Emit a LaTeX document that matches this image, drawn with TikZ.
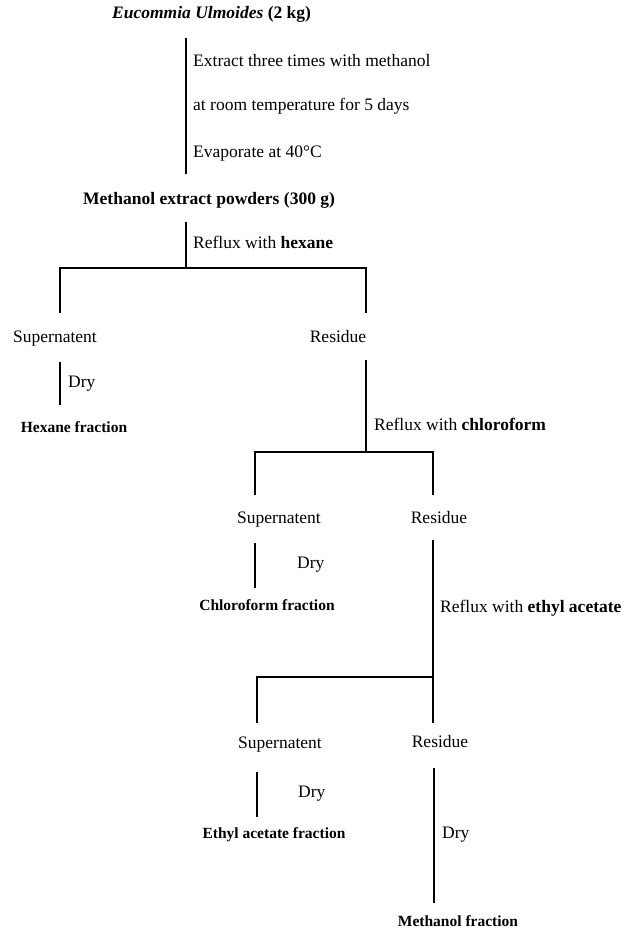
\documentclass[tikz,border=0pt]{standalone}
\usepackage{fontspec}
\setmainfont{Liberation Serif}
\begin{document}
\begin{tikzpicture}[x=1pt,y=-1pt]
\tikzset{
  lbl/.style={inner sep=0pt, font=\fontsize{17.5}{20}\selectfont},
  lblL/.style={lbl, anchor=mid west},
  lblC/.style={lbl, anchor=mid},
  hdr/.style={inner sep=0pt, anchor=mid west, font=\fontsize{17.5}{20}\selectfont\bfseries},
  fracn/.style={inner sep=0pt, anchor=mid, font=\fontsize{15.5}{18}\selectfont\bfseries},
  ln/.style={line width=1.4pt, line cap=butt},
  lnthin/.style={line width=1.1pt, line cap=butt}
}
\useasboundingbox[fill=white] (0,0) rectangle (630,939);

% ---- top ----
\node[hdr] (title) at (112,16) {\textit{Eucommia Ulmoides} (2 kg)};
\coordinate (a1) at (186,38);
\coordinate (a2) at (186,174);
\draw[ln] (a1) -- (a2);
\node[lblL] (ext1) at (193,64) {Extract three times with methanol};
\node[lblL] (ext2) at (193,108) {at room temperature for 5 days};
\node[lblL] (ext3) at (193,155) {Evaporate at 40°C};
\node[hdr] (mep) at (83,202) {Methanol extract powders (300 g)};

\coordinate (b1) at (186,222);
\coordinate (b2) at (186,268);
\draw[ln] (b1) -- (b2);
\node[lblL] (rhex) at (193,246) {Reflux with \textbf{hexane}};

% ---- level 1 split ----
\coordinate (s1top) at (60,268);
\coordinate (s1bot) at (60,313);
\coordinate (r1top) at (366,268);
\coordinate (r1bot) at (366,313);
\draw[ln] (s1bot) -- (s1top) -- (b2) -- (r1top) -- (r1bot);

\node[lblC] (sup1) at (55,340) {Supernatent};
\node[lblC] (res1) at (338,340) {Residue};

\coordinate (d1a) at (60,362);
\coordinate (d1b) at (60,405);
\draw[lnthin] (d1a) -- (d1b);
\node[lblL] (dry1) at (68,385) {Dry};
\node[fracn] (hexf) at (74,430) {Hexane fraction};

\coordinate (r1a) at (366,360);
\coordinate (r1b) at (366,452);
\draw[ln] (r1a) -- (r1b);
\node[lblL] (rchl) at (374,428) {Reflux with \textbf{chloroform}};

% ---- level 2 split ----
\coordinate (s2top) at (255,452);
\coordinate (s2bot) at (255,495);
\coordinate (r2top) at (433,452);
\coordinate (r2bot) at (433,495);
\draw[ln] (s2bot) -- (s2top) -- (r1b) -- (r2top) -- (r2bot);

\node[lblC] (sup2) at (279,521) {Supernatent};
\node[lblC] (res2) at (439,521) {Residue};

\coordinate (d2a) at (255,543);
\coordinate (d2b) at (255,588);
\draw[lnthin] (d2a) -- (d2b);
\node[lblL] (dry2) at (297,566) {Dry};
\node[fracn] (chlf) at (267,608) {Chloroform fraction};

\coordinate (r2a) at (433,540);
\coordinate (r2j) at (433,677);
\coordinate (r2b) at (433,723);
\draw[ln] (r2a) -- (r2j) -- (r2b);
\node[lblL] (reth) at (440,610) {Reflux with \textbf{ethyl acetate}};

% ---- level 3 split ----
\coordinate (s3top) at (257,677);
\coordinate (s3bot) at (257,723);
\draw[ln] (s3bot) -- (s3top) -- (r2j);

\node[lblC] (sup3) at (280,746) {Supernatent};
\node[lblC] (res3) at (440,745) {Residue};

\coordinate (d3a) at (257,772);
\coordinate (d3b) at (257,817);
\draw[lnthin] (d3a) -- (d3b);
\node[lblL] (dry3) at (298,795) {Dry};
\node[fracn] (ethf) at (274,836) {Ethyl acetate fraction};

\coordinate (d4a) at (434,768);
\coordinate (d4b) at (434,903);
\draw[ln] (d4a) -- (d4b);
\node[lblL] (dry4) at (442,836) {Dry};
\node[fracn] (metf) at (458,924) {Methanol fraction};
\end{tikzpicture}
\end{document}
